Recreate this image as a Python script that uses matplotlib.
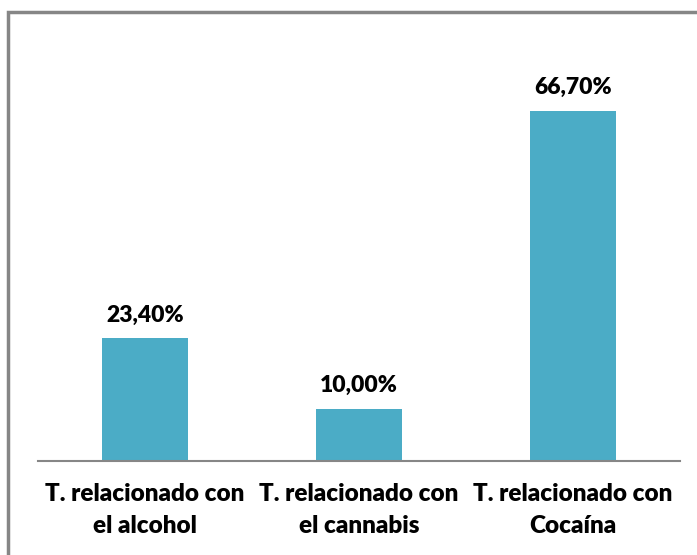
from matplotlib import pyplot as plt
from matplotlib.patches import Rectangle

categories = ['T. relacionado con\nel alcohol', 'T. relacionado con\nel cannabis',
              'T. relacionado con\nCocaína']
values = [23.4, 10.0, 66.7]
value_labels = ['23,40%', '10,00%', '66,70%']

plt.rcParams['font.family'] = ['Lato', 'DejaVu Sans']

fig = plt.figure(figsize=(6.97, 5.55), dpi=100)
ax = fig.add_axes([38 / 697, 94 / 555, 642 / 697, 420 / 555])

x = range(len(categories))
bars = ax.bar(x, values, width=0.4, color='#4BACC6')
for b, lab in zip(bars, value_labels):
    ax.annotate(lab, (b.get_x() + b.get_width() / 2, b.get_height()),
                xytext=(0, 9), textcoords='offset points',
                ha='center', va='bottom', fontsize=16.5, fontweight='heavy')

ax.set_xlim(-0.5, 2.5)
ax.set_ylim(0, 80)
ax.set_yticks([])
ax.set_xticks(list(x))
ax.set_xticklabels(categories, fontsize=17.5, fontweight='heavy', linespacing=1.55)
ax.tick_params(axis='x', length=0, pad=16)
for s in ['top', 'right', 'left']:
    ax.spines[s].set_visible(False)
ax.spines['bottom'].set_color('#868686')
ax.spines['bottom'].set_linewidth(1.5)

# chart frame (right and bottom run off the image)
fig.patches.append(Rectangle((8 / 697, -0.05), 1.2, 1 - 12 / 555 + 0.05,
                             transform=fig.transFigure, fill=False,
                             edgecolor='#868686', linewidth=2.5))

fig.savefig('out.png', dpi=100)
plt.close()
